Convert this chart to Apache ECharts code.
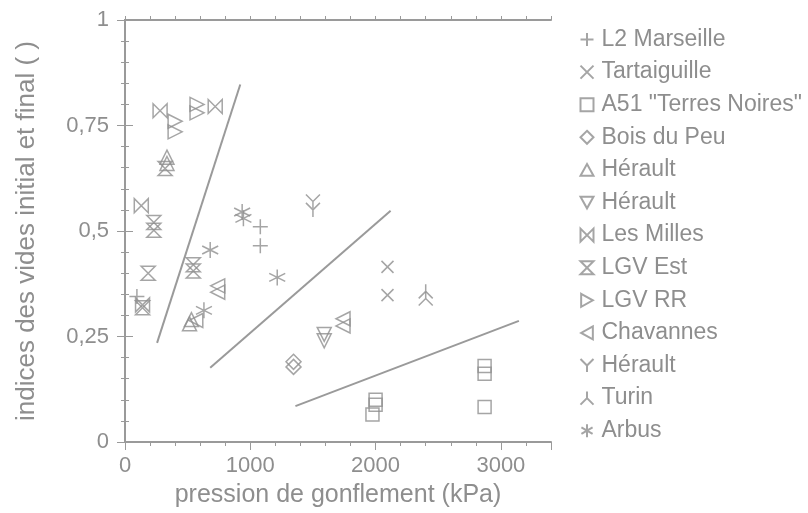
<!DOCTYPE html>
<html>
<head>
<meta charset="utf-8">
<script src="https://cdn.jsdelivr.net/npm/echarts@6/dist/echarts.min.js"></script>
<style>
  html, body { margin: 0; padding: 0; background: #ffffff; }
  #chart { width: 808px; height: 513px; }
</style>
</head>
<body>
<div id="chart"></div>
<script>
// ---- data ----
const l2Marseille  = [[1080, 0.51], [1080, 0.465], [95, 0.345]];
const tartaiguille = [[2095, 0.415], [2095, 0.348]];
const a51          = [[2000, 0.10], [2000, 0.088], [1975, 0.065], [2870, 0.18], [2870, 0.162], [2870, 0.083]];
const boisDuPeu    = [[1345, 0.19], [1345, 0.178]];
const heraultUp    = [[335, 0.675], [335, 0.66], [515, 0.28], [530, 0.29]];
const heraultDown  = [[1590, 0.255], [1590, 0.24]];
const lesMilles    = [[280, 0.785], [720, 0.795], [130, 0.56], [140, 0.325]];
const lgvEst       = [[230, 0.52], [230, 0.502], [545, 0.42], [545, 0.405], [320, 0.648], [185, 0.40], [140, 0.318]];
const lgvRR        = [[575, 0.80], [575, 0.78], [400, 0.76], [400, 0.735]];
const chavannes    = [[740, 0.37], [740, 0.355], [565, 0.288], [1740, 0.292], [1740, 0.275]];
const heraultY     = [[1500, 0.57], [1500, 0.55]];
const turin        = [[2400, 0.357], [2400, 0.34]];
const arbus        = [[935, 0.545], [945, 0.53], [680, 0.455], [1215, 0.39], [630, 0.312]];

const line1 = [[256, 0.235], [920, 0.847]];
const line2 = [[680, 0.176], [2120, 0.548]];
const line3 = [[1360, 0.085], [3144, 0.287]];

const seriesKeys   = ['s1','s2','s3','s4','s5','s6','s7','s8','s9','s10','s11','s12','s13'];
const seriesLabels = ['L2 Marseille', 'Tartaiguille', 'A51 "Terres Noires"', 'Bois du Peu', 'Hérault', 'Hérault',
                      'Les Milles', 'LGV Est', 'LGV RR', 'Chavannes', 'Hérault', 'Turin', 'Arbus'];
const seriesData   = [l2Marseille, tartaiguille, a51, boisDuPeu, heraultUp, heraultDown,
                      lesMilles, lgvEst, lgvRR, chavannes, heraultY, turin, arbus];

const xTickLabels = ['0', '1000', '2000', '3000'];
const yTickLabels = ['0', '0,25', '0,5', '0,75', '1'];

// ---- styles ----
const grey = '#8e8e8e';
const axisGrey = '#9a9a9a';
const font = 'Liberation Sans';
const symbols = [
  'path://M0,5L10,5M5,0L5,10',               // +
  'path://M0,0L10,10M10,0L0,10',             // x
  'path://M0,0L10,0L10,10L0,10Z',            // square
  'path://M5,0L10,5L5,10L0,5Z',              // diamond
  'path://M5,0L10,9L0,9Z',                   // triangle up
  'path://M0,0L10,0L5,9Z',                   // triangle down
  'path://M0,0L0,10L10,0L10,10Z',            // bowtie
  'path://M0,0L10,0L0,10L10,10Z',            // hourglass
  'path://M0,0L9,5L0,10Z',                   // triangle right
  'path://M9,0L0,5L9,10Z',                   // triangle left
  'path://M0,0L5,5L10,0M5,5L5,10',           // Y
  'path://M5,0L5,5M0,10L5,5L10,10',          // inverted Y
  'path://M5,0L5,10M0.7,2.5L9.3,7.5M9.3,2.5L0.7,7.5' // asterisk
];
const sizes = [15, 12, 13, 15, 14, 14, 14, 14, 14, 14, 14, 14, 16];

const series = seriesKeys.map((k, i) => ({
  name: k,
  type: 'scatter',
  data: seriesData[i],
  symbol: symbols[i],
  symbolSize: sizes[i],
  itemStyle: { color: 'none', borderColor: grey, borderWidth: 1.5 },
  emphasis: { disabled: true },
  z: 3
}));
[line1, line2, line3].forEach(l => series.push({
  type: 'line', data: l, showSymbol: false, symbol: 'none',
  lineStyle: { color: axisGrey, width: 2 }, silent: true, z: 2
}));

const chart = echarts.init(document.getElementById('chart'), null, { renderer: 'canvas' });
chart.setOption({
  animation: false,
  backgroundColor: '#ffffff',
  textStyle: { fontFamily: font },
  grid: { left: 125, right: 257, top: 20, bottom: 68, containLabel: false },
  legend: {
    orient: 'vertical',
    left: 573, top: 23,
    data: seriesKeys,
    itemWidth: 13, itemHeight: 13, itemGap: 9.6,
    formatter: name => seriesLabels[seriesKeys.indexOf(name)],
    textStyle: { color: grey, fontSize: 23, fontFamily: font, padding: [0, 0, 0, 3] },
    selectedMode: false
  },
  xAxis: [
    {
      type: 'value', position: 'bottom', min: 0, max: 3400, interval: 200,
      name: 'pression de gonflement (kPa)', nameLocation: 'middle', nameGap: 41,
      nameTextStyle: { color: grey, fontSize: 25, fontFamily: font },
      axisLine: { show: true, lineStyle: { color: axisGrey, width: 2 } },
      axisTick: { show: true, length: 4, lineStyle: { color: axisGrey, width: 1 } },
      axisLabel: {
        color: grey, fontSize: 22, fontFamily: font, margin: 13,
        formatter: v => (v % 1000 === 0 ? xTickLabels[v / 1000] : '')
      },
      splitLine: { show: false }
    },
    {
      type: 'value', position: 'bottom', min: 0, max: 3400, interval: 1000,
      axisLine: { show: false },
      axisTick: { show: true, length: 8, lineStyle: { color: axisGrey, width: 1 } },
      axisLabel: { show: false }, splitLine: { show: false }
    },
    {
      type: 'value', position: 'top', min: 0, max: 3400, interval: 200,
      axisLine: { show: true, lineStyle: { color: axisGrey, width: 2 } },
      axisTick: { show: true, length: 4, lineStyle: { color: axisGrey, width: 1 } },
      axisLabel: { show: false }, splitLine: { show: false }
    }
  ],
  yAxis: [
    {
      type: 'value', position: 'left', min: 0, max: 1, interval: 0.25,
      name: 'indices des vides initial et final ( )', nameLocation: 'middle', nameGap: 85,
      nameTextStyle: { color: grey, fontSize: 26, fontFamily: font },
      axisLine: { show: true, lineStyle: { color: axisGrey, width: 2 } },
      axisTick: { show: true, length: 8, lineStyle: { color: axisGrey, width: 1 } },
      minorTick: { show: true, splitNumber: 5, length: 4, lineStyle: { color: axisGrey, width: 1 } },
      axisLabel: {
        color: grey, fontSize: 22, fontFamily: font, margin: 16,
        formatter: v => yTickLabels[Math.round(v / 0.25)]
      },
      splitLine: { show: false }
    },
    {
      type: 'value', position: 'right', min: 0, max: 1, interval: 0.25,
      axisLine: { show: true, lineStyle: { color: axisGrey, width: 2 } },
      axisTick: { show: true, length: 8, lineStyle: { color: axisGrey, width: 1 } },
      minorTick: { show: true, splitNumber: 5, length: 4, lineStyle: { color: axisGrey, width: 1 } },
      axisLabel: { show: false }, splitLine: { show: false }
    }
  ],
  series: series
});
</script>
</body>
</html>
